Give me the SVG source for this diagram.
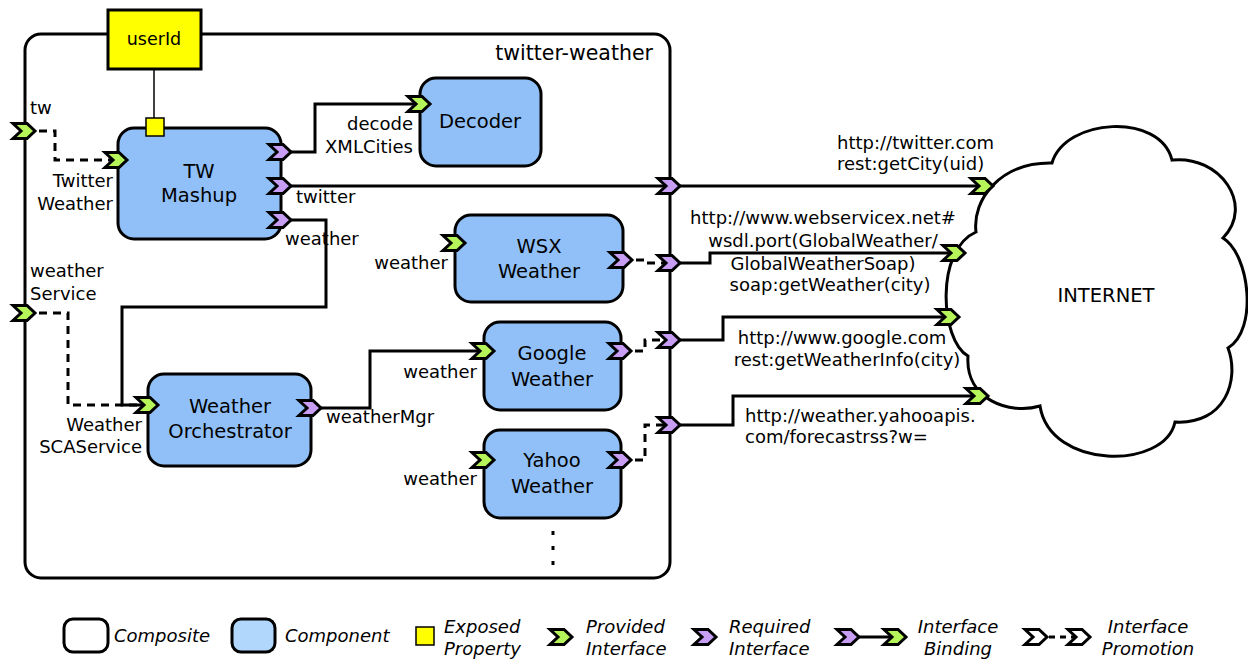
<svg xmlns="http://www.w3.org/2000/svg" xmlns:xlink="http://www.w3.org/1999/xlink" width="1248" height="659" viewBox="0 0 1248 659">
<style>
  text { font-family: "DejaVu Sans", "Liberation Sans", sans-serif; fill: #000; }
  .node { fill: #91c0f8; stroke: #000; stroke-width: 3; }
  .comp { fill: #fff; stroke: #000; stroke-width: 3; }
  .nl { font-size: 19.5px; text-anchor: middle; }
  .pl { font-size: 18px; }
  .end { text-anchor: end; }
  .mid { text-anchor: middle; }
  .wire { fill: none; stroke: #000; stroke-width: 3; }
  .dash { fill: none; stroke: #000; stroke-width: 3; stroke-dasharray: 8 6; }
  .lg { font-size: 18px; font-style: italic; }
</style>
<defs>
  <path id="chev" d="M-12,-7.5 L2,-7.5 L10,0 L2,7.5 L-12,7.5 L-4,0 Z" stroke="#000" stroke-width="3" stroke-linejoin="miter"/>
  <use id="pv" xlink:href="#chev" href="#chev" fill="#b5f55a"/>
  <use id="rq" xlink:href="#chev" href="#chev" fill="#c89ef5"/>
  <use id="wh" xlink:href="#chev" href="#chev" fill="#fff"/>
</defs>

<g id="composite">
  <rect class="comp" x="25" y="34" width="645" height="544" rx="16"/>
  <text x="653" y="60" font-size="20.5" text-anchor="end">twitter-weather</text>
</g>

<g id="internet">
  <path d="M1052,163 C1065,118 1160,112 1172,160 C1220,155 1255,205 1223,238 C1250,255 1258,330 1228,348 C1240,380 1225,425 1175,422 C1165,470 1050,470 1040,406 C1010,415 965,400 968,356 C940,340 935,250 976,232 C972,200 1000,162 1052,163 Z" fill="#fff" stroke="#000" stroke-width="3" stroke-linejoin="miter"/>
  <text x="1106" y="302" font-size="19.5" text-anchor="middle">INTERNET</text>
</g>

<g id="connectors">
  <path class="wire" d="M281,152 H315 V104 H414"/>
  <path class="wire" d="M281,186 H983"/>
  <path class="wire" d="M281,220 H326 V307 H122 V405 H148"/>
  <path class="wire" d="M311,408 H370 V351 H484"/>
  <path class="wire" d="M670,263 H710 V253 H955"/>
  <path class="wire" d="M670,340 H723 V317 H949"/>
  <path class="wire" d="M670,425 H733 V396 H978"/>
  <path class="dash" d="M25,131 H55 V160 H117"/>
  <path class="dash" d="M25,313 H68 V405 H148"/>
  <path class="dash" d="M622,260 H646 V263 H670"/>
  <path class="dash" d="M621,351 H645 V340 H670"/>
  <path class="dash" d="M621,460 H645 V425 H670"/>
</g>

<g id="tw-mashup">
  <rect class="node" x="118" y="128" width="163" height="111" rx="16"/>
  <text class="nl" x="199" y="178">TW</text>
  <text class="nl" x="199" y="202">Mashup</text>
</g>
<g id="decoder">
  <rect class="node" x="420" y="78" width="121" height="88" rx="16"/>
  <text class="nl" x="480" y="128">Decoder</text>
</g>
<g id="wsx-weather">
  <rect class="node" x="455" y="215" width="168" height="87" rx="16"/>
  <text class="nl" x="539" y="253">WSX</text>
  <text class="nl" x="539" y="278">Weather</text>
</g>
<g id="google-weather">
  <rect class="node" x="484" y="322" width="137" height="88" rx="16"/>
  <text class="nl" x="552" y="360">Google</text>
  <text class="nl" x="552" y="386">Weather</text>
</g>
<g id="yahoo-weather">
  <rect class="node" x="484" y="430" width="137" height="88" rx="16"/>
  <text class="nl" x="552" y="467">Yahoo</text>
  <text class="nl" x="552" y="493">Weather</text>
</g>
<g id="weather-orchestrator">
  <rect class="node" x="148" y="374" width="163" height="92" rx="16"/>
  <text class="nl" x="230" y="413">Weather</text>
  <text class="nl" x="230" y="438">Orchestrator</text>
</g>
<g id="more">
  <line x1="553" y1="531" x2="553" y2="567" stroke="#000" stroke-width="3" stroke-dasharray="4 11"/>
</g>

<g id="userId">
  <line x1="154" y1="69" x2="154" y2="119" stroke="#000" stroke-width="1.5"/>
  <rect x="108" y="10" width="93" height="59" fill="#ffff00" stroke="#000" stroke-width="3"/>
  <text x="154" y="45" font-size="17.5" text-anchor="middle">userId</text>
  <rect x="146" y="118" width="18" height="18" fill="#ffff00" stroke="#000" stroke-width="1.5"/>
</g>

<g id="ports">
  <use href="#pv" xlink:href="#pv" x="25" y="131"/>
  <use href="#pv" xlink:href="#pv" x="25" y="313"/>
  <use href="#pv" xlink:href="#pv" x="117" y="160"/>
  <use href="#rq" xlink:href="#rq" x="281" y="152"/>
  <use href="#rq" xlink:href="#rq" x="281" y="186"/>
  <use href="#rq" xlink:href="#rq" x="281" y="220"/>
  <use href="#pv" xlink:href="#pv" x="420" y="104"/>
  <use href="#pv" xlink:href="#pv" x="455" y="243"/>
  <use href="#pv" xlink:href="#pv" x="484" y="351"/>
  <use href="#pv" xlink:href="#pv" x="484" y="460"/>
  <use href="#pv" xlink:href="#pv" x="148" y="405"/>
  <use href="#rq" xlink:href="#rq" x="311" y="408"/>
  <use href="#rq" xlink:href="#rq" x="622" y="260"/>
  <use href="#rq" xlink:href="#rq" x="621" y="351"/>
  <use href="#rq" xlink:href="#rq" x="621" y="460"/>
  <use href="#rq" xlink:href="#rq" x="670" y="186"/>
  <use href="#rq" xlink:href="#rq" x="670" y="263"/>
  <use href="#rq" xlink:href="#rq" x="670" y="340"/>
  <use href="#rq" xlink:href="#rq" x="670" y="425"/>
  <use href="#pv" xlink:href="#pv" x="983" y="186"/>
  <use href="#pv" xlink:href="#pv" x="955" y="253"/>
  <use href="#pv" xlink:href="#pv" x="949" y="317"/>
  <use href="#pv" xlink:href="#pv" x="978" y="396"/>
</g>

<g id="port-labels">
  <text class="pl" x="30" y="114">tw</text>
  <text class="pl end" x="113" y="187">Twitter</text>
  <text class="pl end" x="113" y="210">Weather</text>
  <text class="pl end" x="413" y="130">decode</text>
  <text class="pl end" x="413" y="153">XMLCities</text>
  <text class="pl" x="296" y="203">twitter</text>
  <text class="pl" x="285" y="245">weather</text>
  <text class="pl end" x="448" y="269">weather</text>
  <text class="pl end" x="477" y="378">weather</text>
  <text class="pl end" x="477" y="485">weather</text>
  <text class="pl" x="326" y="423">weatherMgr</text>
  <text class="pl" x="30" y="277">weather</text>
  <text class="pl" x="30" y="300">Service</text>
  <text class="pl end" x="142" y="431">Weather</text>
  <text class="pl end" x="142" y="453">SCAService</text>
  <text class="pl" x="837" y="149">http://twitter.com</text>
  <text class="pl" x="837" y="170">rest:getCity(uid)</text>
  <text class="pl mid" x="823" y="224">http://www.webservicex.net#</text>
  <text class="pl mid" x="823" y="247">wsdl.port(GlobalWeather/</text>
  <text class="pl mid" x="823" y="270">GlobalWeatherSoap)</text>
  <text class="pl mid" x="830" y="291">soap:getWeather(city)</text>
  <text class="pl mid" x="842" y="344">http://www.google.com</text>
  <text class="pl mid" x="847" y="366">rest:getWeatherInfo(city)</text>
  <text class="pl" x="745" y="422">http://weather.yahooapis.</text>
  <text class="pl" x="745" y="443">com/forecastrss?w=</text>
</g>

<g id="legend">
  <rect x="64" y="619" width="44" height="33" rx="9" fill="#fff" stroke="#000" stroke-width="3"/>
  <text class="lg" x="114" y="642">Composite</text>
  <rect x="232" y="619" width="43" height="33" rx="9" fill="#b1d7fd" stroke="#000" stroke-width="3"/>
  <text class="lg" x="285" y="642">Component</text>
  <rect x="416" y="627" width="18" height="18" fill="#ffff00" stroke="#000" stroke-width="1.5"/>
  <text class="lg" x="444" y="633">Exposed</text>
  <text class="lg" x="444" y="655">Property</text>
  <use href="#pv" xlink:href="#pv" x="562" y="637"/>
  <text class="lg" x="586" y="633">Provided</text>
  <text class="lg" x="586" y="655">Interface</text>
  <use href="#rq" xlink:href="#rq" x="706" y="637"/>
  <text class="lg" x="729" y="633">Required</text>
  <text class="lg" x="729" y="655">Interface</text>
  <line x1="848" y1="637" x2="896" y2="637" stroke="#000" stroke-width="3"/>
  <use href="#rq" xlink:href="#rq" x="849" y="637"/>
  <use href="#pv" xlink:href="#pv" x="896" y="637"/>
  <text class="lg mid" x="958" y="633">Interface</text>
  <text class="lg mid" x="958" y="655">Binding</text>
  <line x1="1038" y1="637" x2="1080" y2="637" stroke="#000" stroke-width="3" stroke-dasharray="6 5"/>
  <use href="#wh" xlink:href="#wh" x="1037" y="637"/>
  <use href="#wh" xlink:href="#wh" x="1080" y="637"/>
  <text class="lg mid" x="1148" y="633">Interface</text>
  <text class="lg mid" x="1148" y="655">Promotion</text>
</g>
</svg>
